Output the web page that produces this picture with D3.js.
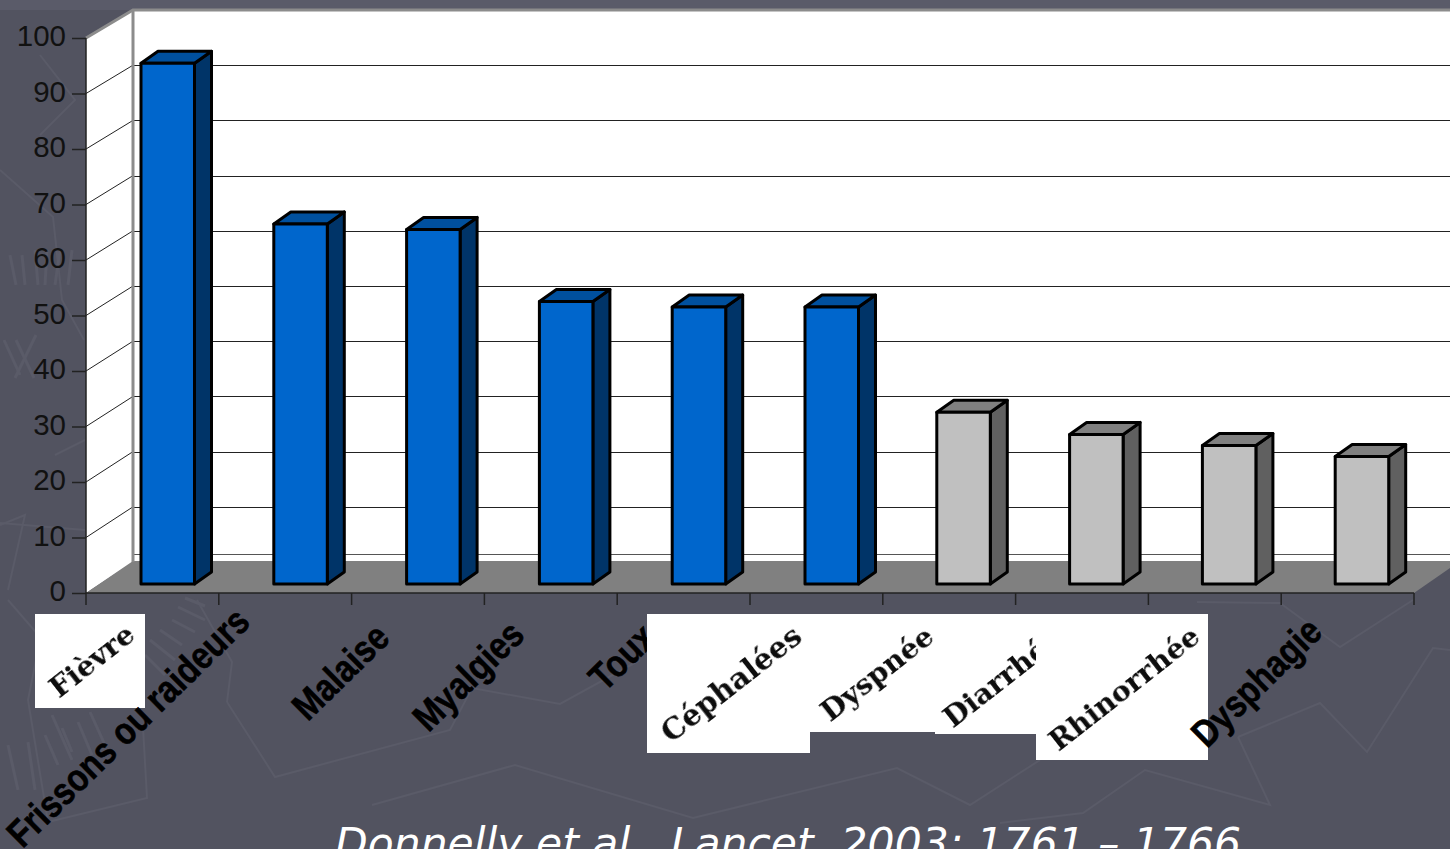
<!DOCTYPE html>
<html><head><meta charset="utf-8">
<script src="https://cdn.jsdelivr.net/npm/d3@7"></script>
<style>html,body{margin:0;padding:0;background:#525360;overflow:hidden}svg{display:block}</style>
</head><body><svg id="c" width="1450" height="849"></svg>
<script>
const categories = ["Fièvre","Frissons ou raideurs","Malaise","Myalgies","Toux","Céphalées","Dyspnée","Diarrhée","Rhinorrhée","Dysphagie"];
const values = [94,65,64,51,50,50,31,27,25,23];
const highlighted = [true,true,true,true,true,true,false,false,false,false];
const tickValues = [0,10,20,30,40,50,60,70,80,90,100];
const citation = "Donnelly et al., Lancet, 2003; 1761 – 1766";
const pastedLabels = ["Fièvre","Céphalées","Dyspnée","Diarrhée","Rhinorrhée"];

const svg = d3.select("#c");
const W=1450,H=849;
svg.append("rect").attr("width",W).attr("height",H).attr("fill","#525360");
svg.append("rect").attr("width",W).attr("height",10).attr("fill","#5a5b69");

// faint decorative background texture
const texture = [
 [[227,702],[275,777],[450,730],[472,688],[560,704],[640,660]],
 [[143,727],[147,798],[48,822],[28,700],[36,660]],
 [[372,805],[515,765],[693,818],[897,768],[970,805],[1040,760]],
 [[1238,737],[1320,703],[1367,752],[1433,648],[1450,650]],
 [[1238,737],[1270,805],[1145,770],[1083,813],[1000,823]],
 [[1197,602],[1280,603],[1340,647],[1413,600]],
 [[197,600],[232,662],[227,702]],
 [[0,170],[53,217],[62,300],[84,340]],
 [[0,525],[25,515],[8,590]],
 [[55,455],[85,440]],
 [[0,523],[85,530]],
 [[40,55],[75,100],[40,135]],
 [[8,600],[60,660]]
];
const hatch = [
 [[185,598],[205,606]],[[178,607],[205,620]],[[172,620],[195,632]],[[160,630],[182,645]],[[150,640],[175,660]],[[145,655],[165,675]],
 [[90,712],[105,745]],[[78,722],[92,755]],[[62,728],[72,752]],[[45,735],[58,765]],[[52,715],[72,760]],[[28,742],[35,790]],[[8,745],[18,790]],
 [[10,255],[16,285]],[[22,255],[25,285]],[[35,250],[38,285]],[[47,250],[45,285]],[[60,250],[55,285]],[[72,250],[68,285]],[[4,340],[20,375]],[[16,340],[34,378]],[[36,335],[15,378]]
];
const bg = svg.append("g").attr("fill","none").attr("stroke","#5a5b68").attr("stroke-width",2);
bg.selectAll("path.t").data(texture).join("path").attr("class","t").attr("d",d3.line());
bg.selectAll("path.h").data(hatch).join("path").attr("class","h").attr("d",d3.line()).attr("stroke-width",3);

const x = d3.scaleBand().domain(categories).range([86,1414]);
const y = d3.scaleLinear().domain([0,100]).range([593,38]);
const wall = d3.scaleLinear().domain([0,100]).range([562,10]);
const DX=47;
const x0=86, x1=1414, yBase=y(0), yTop=y(100);

// walls
svg.append("rect").attr("x",x0+DX).attr("y",wall(100)).attr("width",W-x0-DX).attr("height",wall(0)-wall(100)).attr("fill","#fff");
svg.append("polygon").attr("points",[[x0,yTop],[x0+DX,wall(100)],[x0+DX,wall(0)],[x0,yBase]].join(" ")).attr("fill","#fff");
// gridlines
const inner = tickValues.filter(d=>d>0&&d<100);
const grid = svg.append("g");
grid.selectAll("line.h").data(inner).join("line").attr("class","h")
 .attr("x1",x0+DX).attr("x2",W).attr("y1",d=>Math.round(wall(d))+.5).attr("y2",d=>Math.round(wall(d))+.5).attr("stroke","#222").attr("stroke-width",1);
grid.selectAll("line.d").data(inner).join("line").attr("class","d")
 .attr("x1",x0).attr("x2",x0+DX).attr("y1",d=>y(d)).attr("y2",d=>wall(d)).attr("stroke","#222").attr("stroke-width",1);
grid.append("line").attr("x1",x0+DX).attr("x2",W).attr("y1",554.5).attr("y2",554.5).attr("stroke","#555").attr("stroke-width",1);
// floor
svg.append("polygon").attr("points",[[x0,yBase],[x0+DX,wall(0)-1],[W,wall(0)-1],[W,wall(0)+6],[x1,yBase]].join(" ")).attr("fill","#808080");
// wall edges
svg.append("path").attr("d",`M${x0},${yTop}L${x0+DX},${wall(100)}L${W},${wall(100)}`).attr("fill","none").attr("stroke","#8c8c8c").attr("stroke-width",3);
svg.append("line").attr("x1",x0+DX).attr("x2",x0+DX).attr("y1",wall(100)).attr("y2",wall(0)).attr("stroke","#8c8c8c").attr("stroke-width",3);

// axes
const yAxis = d3.axisLeft(y).tickValues(tickValues).tickSize(14).tickPadding(6);
const gy = svg.append("g").attr("transform",`translate(${x0},0)`).call(yAxis);
gy.select(".domain").attr("stroke","#222").attr("stroke-width",1.5).attr("d",`M0,${yTop}V${yBase}`);
gy.selectAll(".tick line").attr("stroke","#222").attr("stroke-width",1.5);
gy.selectAll("text").attr("fill","#111").attr("font-family","'Liberation Sans',Arial,sans-serif").attr("font-size",29.5).attr("dy","0.27em");

const xTicks = categories.map(c=>x(c)).concat([x1]);
svg.append("line").attr("x1",x0).attr("x2",x1).attr("y1",yBase).attr("y2",yBase).attr("stroke","#222").attr("stroke-width",1.5);
svg.append("g").selectAll("line").data(xTicks).join("line")
 .attr("x1",d=>d).attr("x2",d=>d).attr("y1",yBase).attr("y2",yBase+12).attr("stroke","#222").attr("stroke-width",1.5);

// bars
const barW=53.5, barOff=55, bx=17, by=12, barBase=584;
const h = d3.scaleLinear().domain([0,100]).range([barBase,barBase-554]);
const cols = on => on ? {f:"#0066cc",s:"#003468",t:"#00509e"} : {f:"#c0c0c0",s:"#606060",t:"#808080"};
const bars = svg.append("g").selectAll("g").data(categories).join("g").attr("stroke","#000").attr("stroke-width",3).attr("stroke-linejoin","round");
bars.each(function(c,i){
  const g=d3.select(this), L=x(c)+barOff-(highlighted[i]?0:1), R=L+barW, T=h(values[i]), col=cols(highlighted[i]);
  g.append("polygon").attr("points",[[R,T],[R+bx,T-by],[R+bx,barBase-by],[R,barBase]].join(" ")).attr("fill",col.s);
  g.append("polygon").attr("points",[[L,T],[L+bx,T-by],[R+bx,T-by],[R,T]].join(" ")).attr("fill",col.t);
  g.append("rect").attr("x",L).attr("y",T).attr("width",barW).attr("height",barBase-T).attr("fill",col.f);
});

// category labels
const sansFont="'Liberation Sans',Arial,sans-serif";
const sansPlace = {"Frissons ou raideurs":[33,624],"Malaise":[40,640],"Myalgies":[42,637],"Toux":[41,640],"Dysphagie":[43,634]};
const drawSans = c => svg.append("text").text(c)
  .attr("transform",`translate(${x(c)+sansPlace[c][0]},${sansPlace[c][1]}) rotate(-44.5) scale(1,1.18)`)
  .attr("text-anchor","end").attr("font-family",sansFont).attr("font-weight","700").attr("font-size",32.5).attr("stroke","#000").attr("stroke-width",.5).attr("fill","#000");
drawSans("Toux");

// pasted label boxes (white rectangles with rough text)
const boxes = {
 "Fièvre":[35,614,110,94,137,638],
 "Céphalées":[647,614,163,139,804,640],
 "Dyspnée":[810,614,125,118,936,640],
 "Diarrhée":[935,614,101,120,1064,642],
 "Rhinorrhée":[1036,614,172,146,1202,640]
};
const defs=svg.append("defs");
defs.append("filter").attr("id","soft").append("feGaussianBlur").attr("stdDeviation",0.6);
pastedLabels.forEach((c,i)=>{
  const [bxx,byy,bw,bh]=boxes[c];
  svg.append("rect").attr("x",bxx).attr("y",byy).attr("width",bw).attr("height",bh).attr("fill","#fff");
  defs.append("clipPath").attr("id","cl"+i).append("rect").attr("x",bxx).attr("y",byy).attr("width",bw).attr("height",bh);
});
pastedLabels.forEach((c,i)=>{
  const [,,,,ex,ey]=boxes[c];
  svg.append("g").attr("clip-path",`url(#cl${i})`).append("text").text(c)
   .attr("transform",`translate(${ex},${ey}) rotate(-38)`)
   .attr("filter","url(#soft)")
   .attr("text-anchor","end").attr("font-family","'DejaVu Serif',serif").attr("font-weight","700").attr("font-size",c==="Céphalées"?29.5:28.5).attr("fill","#111");
});
categories.filter(c=>c!=="Toux"&&!pastedLabels.includes(c)).forEach(drawSans);

// citation
svg.append("text").text(citation).attr("x",335).attr("y",858)
 .attr("font-family","'DejaVu Sans',sans-serif").attr("font-style","italic").attr("font-size",42.5).attr("fill","#fff");
</script></body></html>
